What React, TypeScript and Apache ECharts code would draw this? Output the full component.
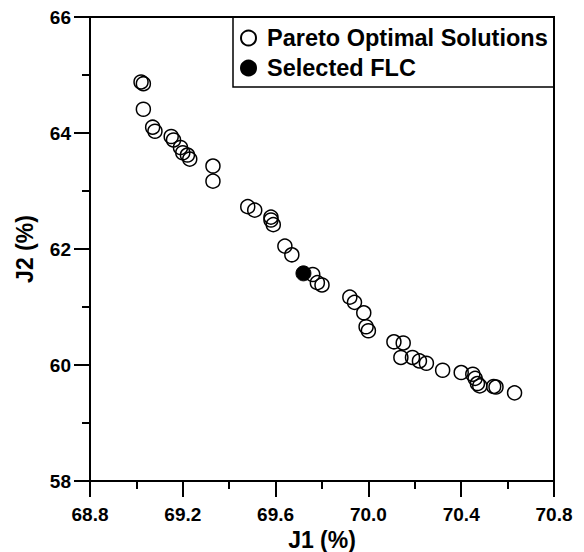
import React, { useEffect, useRef } from "react";
import * as echarts from "echarts";

// J1 / J2 pairs of the non-dominated solutions
const paretoJ1 = [
  69.02, 69.03, 69.03, 69.07, 69.08, 69.15, 69.16, 69.19, 69.2, 69.22, 69.23,
  69.33, 69.33, 69.48, 69.51, 69.58, 69.58, 69.59, 69.64, 69.67, 69.76, 69.78,
  69.8, 69.92, 69.94, 69.98, 69.99, 70.0, 70.11, 70.15, 70.14, 70.19, 70.22,
  70.25, 70.32, 70.4, 70.45, 70.46, 70.47, 70.48, 70.54, 70.55, 70.63,
];
const paretoJ2 = [
  64.88, 64.85, 64.41, 64.1, 64.03, 63.94, 63.88, 63.75, 63.66, 63.62, 63.55,
  63.43, 63.17, 62.73, 62.67, 62.55, 62.5, 62.42, 62.05, 61.9, 61.56, 61.42,
  61.38, 61.17, 61.08, 60.9, 60.66, 60.59, 60.4, 60.38, 60.13, 60.13, 60.07,
  60.03, 59.91, 59.87, 59.84, 59.77, 59.68, 59.64, 59.63, 59.62, 59.52,
];
const selectedJ1 = [69.72];
const selectedJ2 = [61.58];

const seriesNames = ["Pareto Optimal Solutions", "Selected FLC"];
const axisNames = ["J1 (%)", "J2 (%)"];

const FONT = "'Liberation Sans', Arial, sans-serif";

export default function App() {
  const ref = useRef<HTMLDivElement>(null);

  useEffect(() => {
    if (!ref.current) return;
    const chart = echarts.init(ref.current, null, { renderer: "svg" });

    const pareto = paretoJ1.map((x, i) => [x, paretoJ2[i]]);
    const selected = selectedJ1.map((x, i) => [x, selectedJ2[i]]);

    const labelStyle = {
      color: "#000",
      fontFamily: FONT,
      fontWeight: "bold" as const,
      fontSize: 19,
    };
    const tickLine = { color: "#000", width: 2 };

    chart.setOption({
      animation: false,
      backgroundColor: "#fff",
      grid: {
        left: 90,
        top: 17,
        right: 30,
        bottom: 71,
        outerBoundsMode: "none",
        show: true,
        borderColor: "#000",
        borderWidth: 2,
      },
      xAxis: {
        type: "value",
        min: 68.8,
        max: 70.8,
        interval: 0.4,
        name: axisNames[0],
        nameLocation: "middle",
        nameGap: 36,
        nameTextStyle: { ...labelStyle, fontSize: 23 },
        axisLine: { show: true, lineStyle: tickLine },
        axisTick: { show: true, inside: false, length: 16, lineStyle: tickLine },
        minorTick: { show: true, splitNumber: 2, length: 8, lineStyle: tickLine },
        axisLabel: { ...labelStyle, inside: false, margin: 24, formatter: (v: number) => v.toFixed(1) },
        splitLine: { show: false },
      },
      yAxis: {
        type: "value",
        min: 58,
        max: 66,
        interval: 2,
        name: axisNames[1],
        nameLocation: "middle",
        nameGap: 54,
        nameTextStyle: { ...labelStyle, fontSize: 23 },
        axisLine: { show: true, lineStyle: tickLine },
        axisTick: { show: true, inside: false, length: 16, lineStyle: tickLine },
        minorTick: { show: true, splitNumber: 2, length: 8, lineStyle: tickLine },
        axisLabel: { ...labelStyle, inside: false, margin: 19 },
        splitLine: { show: false },
      },
      legend: {
        orient: "vertical",
        left: 240,
        top: 26,
        itemWidth: 15,
        itemHeight: 15,
        itemGap: 6,
        padding: 0,
        textStyle: { ...labelStyle, fontSize: 23.5, padding: [0, 0, 0, 6] },
        data: seriesNames,
      },
      graphic: [
        {
          type: "rect",
          shape: { x: 233, y: 17, width: 321, height: 70 },
          style: { fill: "none", stroke: "#000", lineWidth: 1.5 },
          z: 10,
        },
      ],
      series: [
        {
          name: seriesNames[0],
          type: "scatter",
          data: pareto,
          symbol: "circle",
          symbolSize: 14,
          itemStyle: { color: "rgba(0,0,0,0)", borderColor: "#000", borderWidth: 1.5, opacity: 1 },
        },
        {
          name: seriesNames[1],
          type: "scatter",
          data: selected,
          symbol: "circle",
          symbolSize: 15,
          itemStyle: { color: "#000", borderColor: "#000", borderWidth: 1, opacity: 1 },
          z: 3,
        },
      ],
    });

    return () => chart.dispose();
  }, []);

  return <div ref={ref} style={{ width: 584, height: 552, position: "absolute", left: 0, top: 0 }} />;
}
